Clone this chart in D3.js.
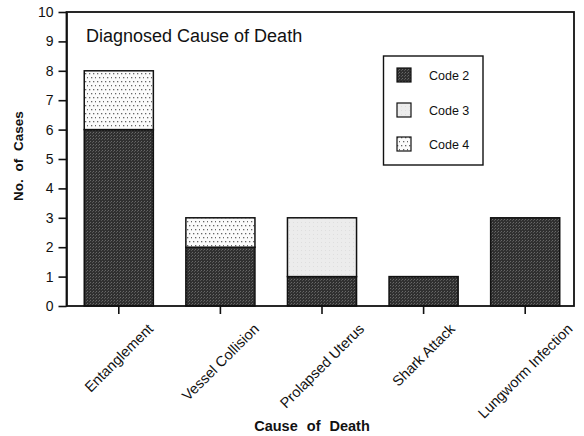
<!DOCTYPE html>
<html>
<head>
<meta charset="utf-8" />
<title>Diagnosed Cause of Death</title>
<script src="https://d3js.org/d3.v7.min.js"></script>
<style>
    body { margin: 0; background: #fff; }
    svg { display: block; font-family: 'Liberation Sans', Arial, Helvetica, sans-serif; }
    .axis text { font-size: 14px; fill: #111; }
    .axis line, .axis path { stroke: #111; stroke-width: 1.6px; }
</style>
</head>
<body>
<div id="chart"></div>
<script>
    // chart data
    var categories = ["Entanglement", "Vessel Collision", "Prolapsed Uterus", "Shark Attack", "Lungworm Infection"];
    var code2 = [6, 2, 1, 1, 3];
    var code3 = [0, 0, 2, 0, 0];
    var code4 = [2, 1, 0, 0, 0];
    var seriesNames = ["Code 2", "Code 3", "Code 4"];
    var yTicks = [0, 1, 2, 3, 4, 5, 6, 7, 8, 9, 10];

    var width = 584, height = 436;
    var plotLeft = 66.5, plotRight = 574, plotTop = 12, plotBottom = 306;

    var svg = d3.select("#chart").append("svg")
        .attr("width", width).attr("height", height);

    /* fill patterns imitating the printed screens */
    var defs = svg.append("defs");
    var p2 = defs.append("pattern").attr("id", "p2")
        .attr("width", 3).attr("height", 3).attr("patternUnits", "userSpaceOnUse");
    p2.append("rect").attr("width", 3).attr("height", 3).attr("fill", "#303030");
    p2.append("rect").attr("x", 0).attr("y", 0).attr("width", 1).attr("height", 1).attr("fill", "#686868");
    p2.append("rect").attr("x", 2).attr("y", 1).attr("width", 1).attr("height", 1).attr("fill", "#555");

    var p3 = defs.append("pattern").attr("id", "p3")
        .attr("width", 4).attr("height", 4).attr("patternUnits", "userSpaceOnUse");
    p3.append("rect").attr("width", 4).attr("height", 4).attr("fill", "#ececec");
    p3.append("rect").attr("x", 1).attr("y", 2).attr("width", 1).attr("height", 1).attr("fill", "#dedede");

    var p4 = defs.append("pattern").attr("id", "p4")
        .attr("width", 8).attr("height", 8).attr("patternUnits", "userSpaceOnUse");
    p4.append("rect").attr("width", 8).attr("height", 8).attr("fill", "#fbfbfb");
    [[1, 1], [5, 1], [3, 5], [7, 5]].forEach(function (d) {
        p4.append("rect").attr("x", d[0]).attr("y", d[1])
            .attr("width", 1.3).attr("height", 1.3).attr("fill", "#666");
    });
    var fills = ["url(#p2)", "url(#p3)", "url(#p4)"];

    var x = d3.scaleBand().domain(categories).range([68, 576])
        .paddingInner(0.32).paddingOuter(0.16);
    var y = d3.scaleLinear().domain([0, 10]).range([plotBottom, plotTop]);

    var table = categories.map(function (c, i) {
        return { cat: c, "Code 2": code2[i], "Code 3": code3[i], "Code 4": code4[i] };
    });
    var stacked = d3.stack().keys(seriesNames)(table);

    // bars
    svg.append("g").selectAll("g")
        .data(stacked)
        .enter().append("g")
        .attr("fill", function (d, i) { return fills[i]; })
        .selectAll("rect")
        .data(function (d) { return d.filter(function (s) { return s[1] > s[0]; }); })
        .enter().append("rect")
        .attr("x", function (d) { return x(d.data.cat); })
        .attr("y", function (d) { return y(d[1]); })
        .attr("width", x.bandwidth())
        .attr("height", function (d) { return y(d[0]) - y(d[1]); })
        .attr("stroke", "#111").attr("stroke-width", 1.5);

    // frame
    svg.append("rect")
        .attr("x", plotLeft).attr("y", plotTop)
        .attr("width", plotRight - plotLeft).attr("height", plotBottom - plotTop)
        .attr("fill", "none").attr("stroke", "#111").attr("stroke-width", 1.8);

    // y axis
    svg.append("g").attr("class", "axis")
        .attr("transform", "translate(" + plotLeft + ",0)")
        .call(d3.axisLeft(y).tickValues(yTicks).tickSize(8).tickSizeOuter(0).tickPadding(5));

    // x axis ticks
    svg.append("g").attr("class", "axis")
        .attr("transform", "translate(0," + plotBottom + ")")
        .call(d3.axisBottom(x).tickSize(8).tickSizeOuter(0).tickFormat(""))
        .select(".domain").remove();

    // rotated category labels, centred on their ticks
    svg.append("g").selectAll("text")
        .data(categories)
        .enter().append("text")
        .text(function (d) { return d; })
        .style("font-size", "14.5px").attr("fill", "#111")
        .attr("text-anchor", "middle")
        .attr("dominant-baseline", "central")
        .attr("transform", function (d) {
            var len = this.getComputedTextLength();
            var cx = x(d) + x.bandwidth() / 2;
            var cy = 322 + (len + 12) * Math.SQRT1_2 / 2;
            return "translate(" + cx + "," + cy + ") rotate(-45)";
        });

    // axis titles
    svg.append("text")
        .text("Cause of Death")
        .attr("x", 312).attr("y", 431)
        .attr("text-anchor", "middle")
        .style("font-size", "14.5px").style("font-weight", "bold")
        .style("word-spacing", "5px").attr("fill", "#111");

    svg.append("text")
        .text("No. of Cases")
        .attr("transform", "translate(23,156) rotate(-90)")
        .attr("text-anchor", "middle")
        .style("font-size", "13.5px").style("font-weight", "bold")
        .style("word-spacing", "4px").attr("fill", "#111");

    // chart title
    svg.append("text")
        .text("Diagnosed Cause of Death")
        .attr("x", 86).attr("y", 42)
        .style("font-size", "18px").attr("fill", "#111");

    // legend
    var legend = svg.append("g");
    legend.append("rect")
        .attr("x", 383.5).attr("y", 56)
        .attr("width", 99.5).attr("height", 109)
        .attr("fill", "#fff").attr("stroke", "#111").attr("stroke-width", 1.4);
    var legY = [68, 103, 137];
    seriesNames.forEach(function (name, i) {
        legend.append("rect")
            .attr("x", 397).attr("y", legY[i])
            .attr("width", 14).attr("height", 14)
            .attr("fill", fills[i]).attr("stroke", "#111").attr("stroke-width", 1.2);
        legend.append("text")
            .text(name)
            .attr("x", 429).attr("y", legY[i] + 12)
            .style("font-size", "12.5px").attr("fill", "#111");
    });
</script>
</body>
</html>
